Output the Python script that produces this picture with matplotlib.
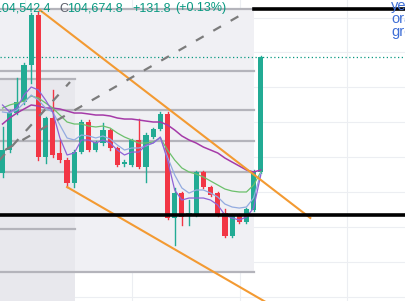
import matplotlib
matplotlib.use("Agg")
import matplotlib.pyplot as plt

plt.rcParams["font.family"] = ["Liberation Sans", "DejaVu Sans"]

# ── Data: 1-minute candles (index, OHLC) ─────────────────────────────────────
opens = [104541.8, 104568.2, 104610.6, 104623.2, 104665.6, 104722.9, 104560.2,
         104604.9, 104564.8, 104556.7, 104530.4, 104565.9, 104600.3, 104568.2,
         104576.2, 104591.1, 104570.5, 104552.1, 104551.0, 104579.7, 104548.7,
         104583.1, 104592.3, 104609.5, 104490.3, 104518.9, 104492.6, 104493.7,
         104543.0, 104525.8, 104518.9, 104496.0, 104469.7, 104493.7, 104485.7,
         104499.4, 104543.0]
highs = [104594.6, 104614.0, 104650.7, 104667.9, 104725.2, 104726.4, 104606.0,
         104636.9, 104579.7, 104559.0, 104568.2, 104602.6, 104602.6, 104578.5,
         104599.1, 104592.3, 104571.6, 104556.7, 104580.8, 104603.7, 104587.7,
         104593.4, 104611.8, 104611.8, 104524.7, 104520.1, 104510.9, 104544.1,
         104544.1, 104527.0, 104520.1, 104500.6, 104494.9, 104494.9, 104501.7,
         104545.3, 104676.0]
lows = [104537.3, 104565.9, 104609.5, 104620.9, 104645.0, 104556.7, 104553.3,
        104560.2, 104554.4, 104525.8, 104525.8, 104564.8, 104567.1, 104567.1,
        104573.9, 104568.2, 104549.9, 104549.9, 104549.9, 104547.6, 104531.5,
        104582.0, 104591.1, 104489.1, 104459.3, 104482.2, 104482.2, 104492.6,
        104524.7, 104515.5, 104492.6, 104468.5, 104468.5, 104484.5, 104484.5,
        104498.3, 104542.4]
closes = [104568.2, 104611.8, 104623.2, 104665.6, 104722.9, 104560.2, 104604.9,
          104562.5, 104556.7, 104530.4, 104565.9, 104600.3, 104568.2, 104577.4,
          104591.1, 104570.5, 104551.0, 104554.4, 104579.7, 104548.7, 104585.4,
          104592.3, 104609.5, 104490.3, 104518.9, 104491.4, 104496.0, 104543.0,
          104525.8, 104516.6, 104493.7, 104469.7, 104493.7, 104485.7, 104500.6,
          104543.0, 104674.8]

# moving averages
ma_slow = [104598.0, 104604.9, 104610.6, 104615.2, 104619.8, 104618.6, 104616.3,
           104616.3, 104615.2, 104612.9, 104610.6, 104610.6, 104609.5, 104608.3,
           104608.3, 104607.2, 104604.9, 104603.7, 104603.7, 104602.6, 104601.4,
           104600.3, 104600.3, 104596.9, 104591.1, 104584.3, 104579.7, 104576.2,
           104571.6, 104568.2, 104564.8, 104559.0, 104554.4, 104549.9, 104545.3,
           104543.0, 104545.3]
ma_mid = [104616.3, 104619.8, 104622.1, 104624.3, 104630.1, 104627.8, 104622.1,
          104616.3, 104608.3, 104600.3, 104598.0, 104598.0, 104595.7, 104594.6,
          104595.7, 104593.4, 104587.7, 104583.1, 104579.7, 104576.2, 104576.2,
          104577.4, 104582.0, 104568.2, 104556.7, 104547.6, 104543.0, 104540.7,
          104537.3, 104532.7, 104528.1, 104523.5, 104521.2, 104520.1, 104520.1,
          104528.1, 104543.0]
ma_fast = [104611.8, 104610.6, 104614.0, 104622.1, 104631.2, 104625.5, 104616.3,
           104611.8, 104596.9, 104582.0, 104579.7, 104585.4, 104584.3, 104582.0,
           104584.3, 104580.8, 104574.0, 104568.2, 104570.5, 104570.5, 104572.8,
           104576.2, 104582.0, 104560.2, 104539.6, 104524.7, 104518.9, 104522.4,
           104522.4, 104518.9, 104514.4, 104506.3, 104502.9, 104501.7, 104502.9,
           104513.2, 104541.8]
ma_fastest = [104619.8, 104611.8, 104616.3, 104631.2, 104640.4, 104637.0, 104625.5,
              104611.8, 104582.0, 104562.5, 104564.8, 104579.7, 104579.7, 104576.2,
              104579.7, 104576.2, 104568.2, 104562.5, 104565.9, 104565.9, 104573.9,
              104576.2, 104583.1, 104556.7, 104522.4, 104510.9, 104513.2, 104513.2,
              104513.2, 104510.9, 104505.2, 104493.7, 104490.3, 104488.0, 104491.4,
              104501.7, 104539.6]

# drawing levels
fib_levels = [104729.8, 104658.7, 104614.0, 104578.5, 104543.0, 104428.4]
left_levels = [104649.6, 104477.7]
black_level = 104493.7
last_price = 104674.8
legend_lines = ["yellow", "orange", "green"]

# ── Palette ──────────────────────────────────────────────────────────────────
C_UP = "#22ab94"
C_DOWN = "#f23645"
C_TEAL = "#089981"
C_REGION = "#f0f0f4"
C_REGION2 = "#e8e8ed"
C_LEVEL = "#b4b4bb"
C_GRID = "#eceef2"
C_ORANGE = "#f39a32"
C_DASH = "#7c7c7c"
C_BLUE = "#3f6fd6"

# ── Canvas ───────────────────────────────────────────────────────────────────
W, H = 405, 301
fig = plt.figure(figsize=(W / 100, H / 100), dpi=100)
fig.patch.set_facecolor("white")
ax = fig.add_axes([0, 0, 1, 1])
ax.set_xlim(-0.35, 56.1)
ax.set_ylim(104395.2, 104740.1)
ax.axis("off")

# grid
for gx in [3.14, 18.06, 33.13, 48.05]:
    ax.axvline(gx, color=C_GRID, lw=0.8, zorder=0)
for gy in range(104400, 104721, 40):
    ax.axhline(gy, color=C_GRID, lw=0.8, zorder=0)

# fib region + left box
FIB_X1 = 35.1
ax.fill_between([-1, FIB_X1], fib_levels[-1], fib_levels[0],
                color=C_REGION, lw=0, zorder=1)
ax.fill_between([-1, 10.1], 104380, left_levels[0],
                color=C_REGION2, lw=0, zorder=1)
for lv in fib_levels:
    ax.plot([-1, FIB_X1], [lv, lv], color=C_LEVEL, lw=1.6, zorder=2)
for lv in left_levels:
    ax.plot([-1, 10.1], [lv, lv], color=C_LEVEL, lw=1.6, zorder=2)

# last price dotted line
ax.axhline(last_price, color=C_TEAL, lw=0.9, ls=(0, (1, 2)), zorder=2)

# candles
for i, (o, h, l, c) in enumerate(zip(opens, highs, lows, closes)):
    col = C_UP if c >= o else C_DOWN
    ax.plot([i, i], [l, h], color=col, lw=1.0, zorder=3)
    body = max(abs(c - o), 1.2)
    ax.bar(i, body, bottom=min(o, c), width=0.72, color=col, lw=0, zorder=3)

# moving averages
xs = range(len(closes))
ax.plot(xs, ma_slow, color="#a53aa8", lw=1.1, zorder=4)
ax.plot(xs, ma_mid, color="#6cc06c", lw=0.9, zorder=4)
ax.plot(xs, ma_fast, color="#93abe0", lw=0.9, zorder=4)
ax.plot(xs, ma_fastest, color="#8f63d6", lw=0.9, zorder=4)

# trend lines
ax.plot([5.2, 42.9], [104728.6, 104490.3], color=C_ORANGE, lw=1.5, zorder=5)
ax.plot([9.0, 41.5], [104525.8, 104371.1], color=C_ORANGE, lw=1.5, zorder=5)
ax.plot([0.35, 33.7], [104568.2, 104725.2], color=C_DASH, lw=1.6,
        ls=(0, (4, 5)), zorder=5)
ax.plot([-1.05, 9.41], [104551.0, 104646.1], color=C_DASH, lw=1.6,
        ls=(0, (4, 5)), zorder=5)

# black horizontal lines
ax.plot([-1, 60], [black_level, black_level], color="black", lw=2.6, zorder=6)
ax.plot([FIB_X1, 60], [fib_levels[0], fib_levels[0]], color="black", lw=2.6,
        zorder=6)


def ptext(x, y, s, **kw):
    fig.text(x / W, 1 - y / H, s, **kw)


# header values
ptext(51, 11.5, "L104,542.4", ha="right", va="baseline", fontsize=9, color=C_TEAL)
ptext(59, 11.5, "C", ha="left", va="baseline", fontsize=9, color="#5d606b")
ptext(67.5, 11.5, "104,674.8", ha="left", va="baseline", fontsize=9, color=C_TEAL)
ptext(132, 11.5, "+131.8", ha="left", va="baseline", fontsize=9, color=C_TEAL)
ptext(175, 11.5, "(+0.13%)", ha="left", va="baseline", fontsize=9, color=C_TEAL)

# legend text cut by the right edge
for k, s in enumerate(legend_lines):
    ptext(391, 10 + 13 * k, s, ha="left", va="baseline", fontsize=10.5,
          color=C_BLUE)

fig.savefig("out.png", dpi=100, facecolor="white")
